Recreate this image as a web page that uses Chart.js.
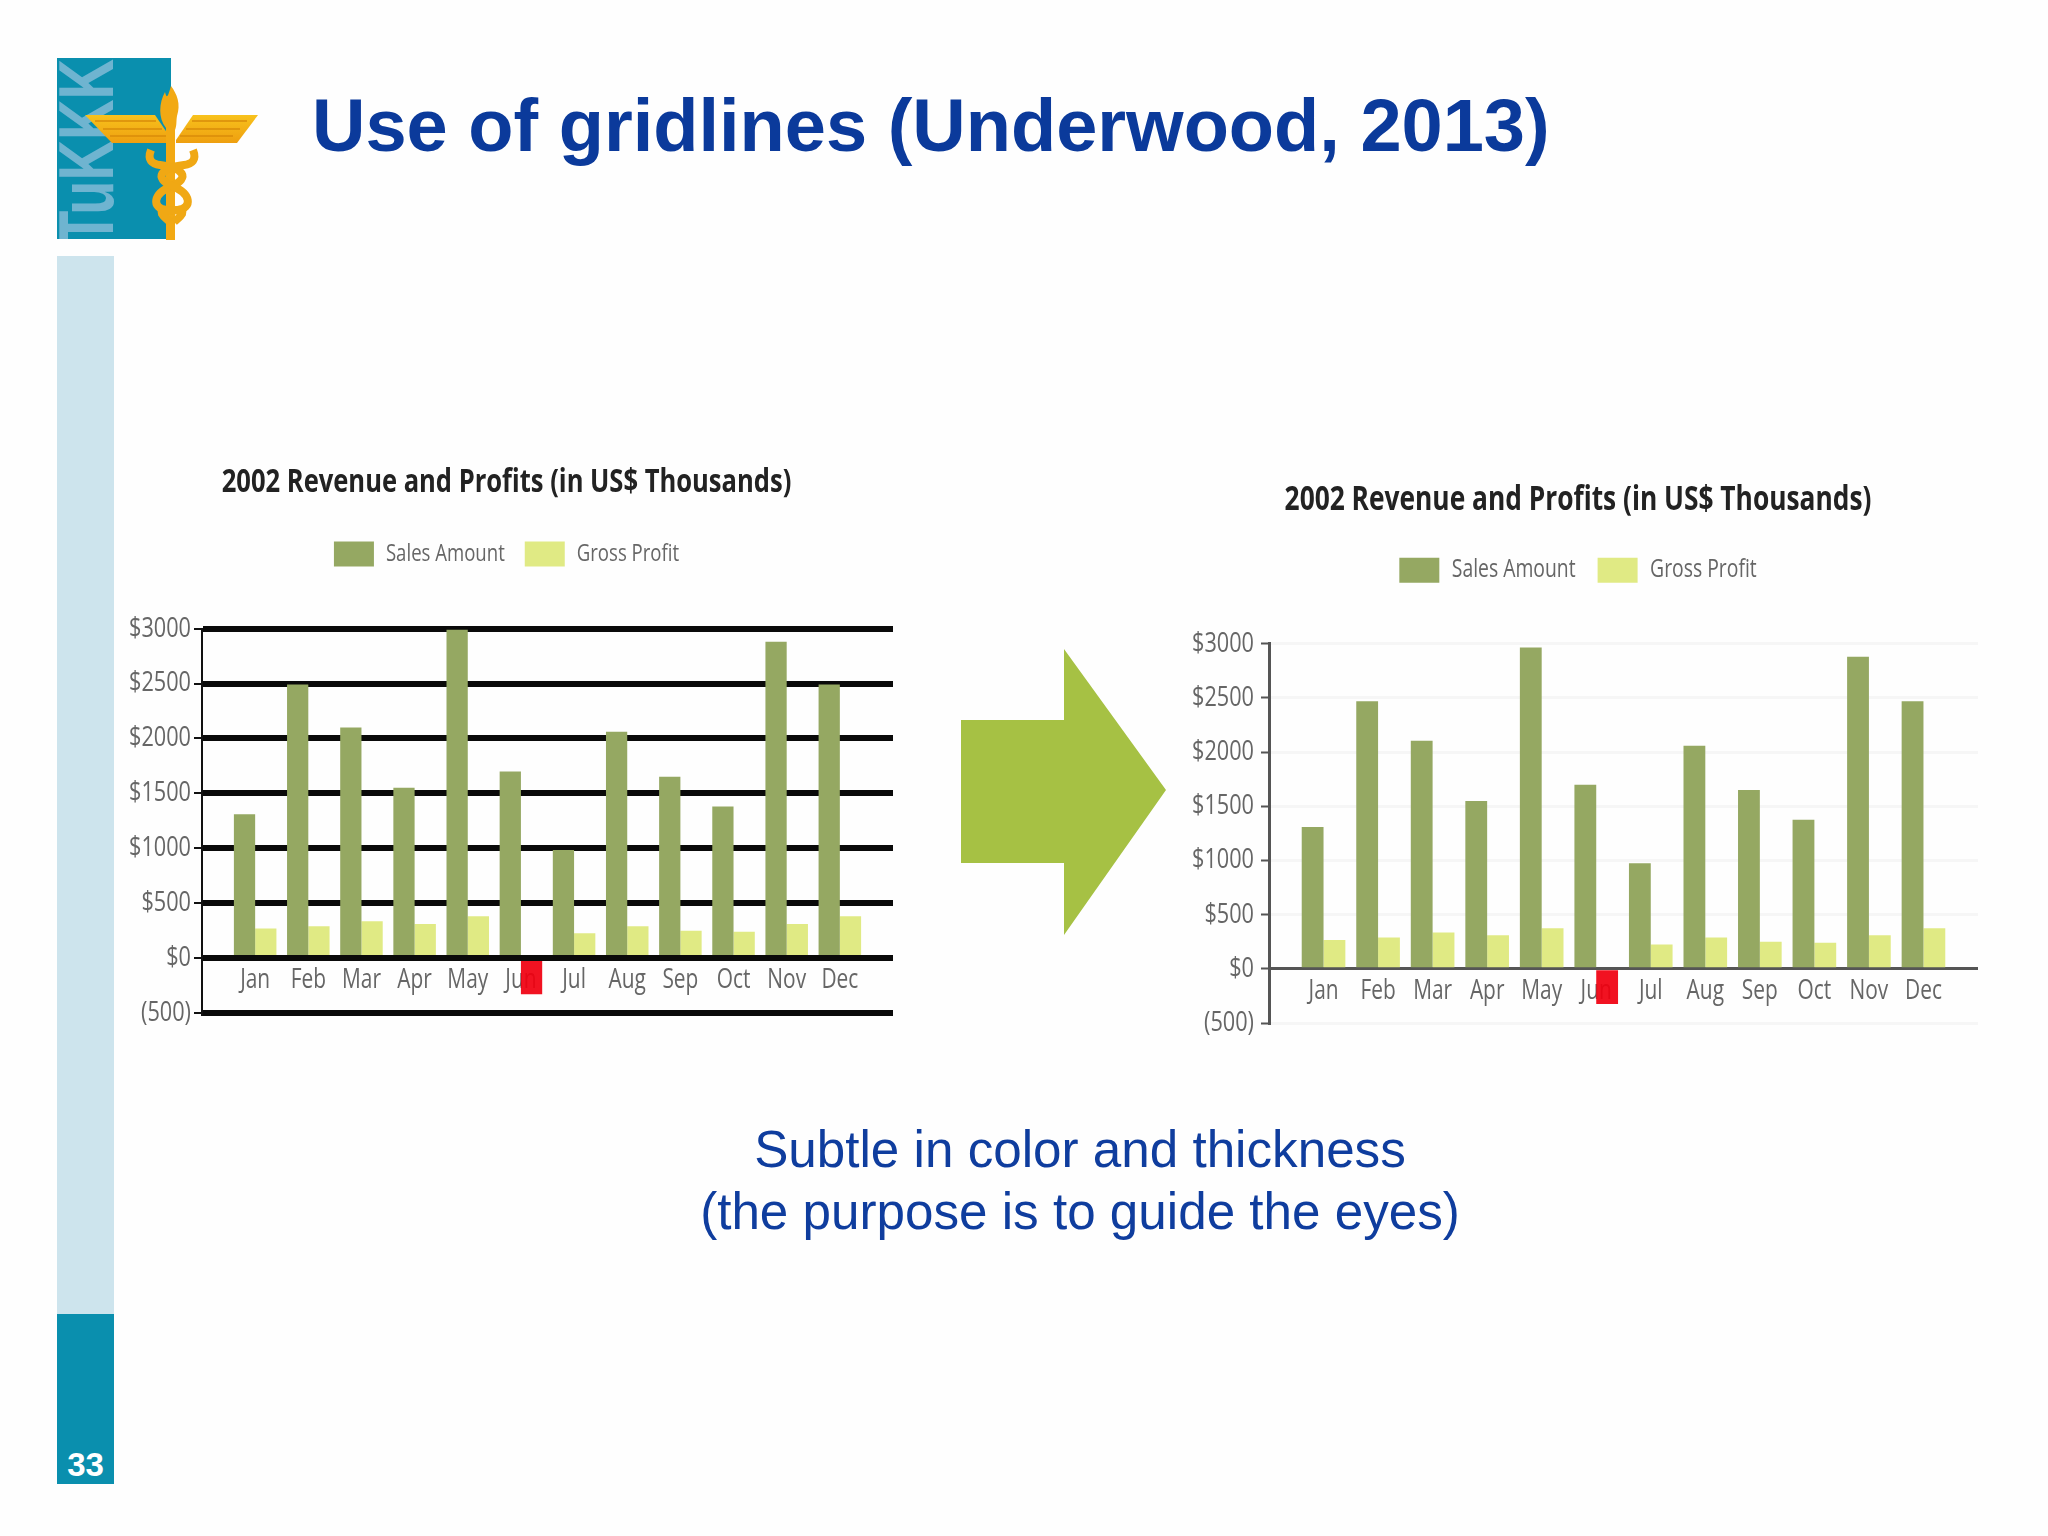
<!DOCTYPE html>
<html>
<head>
<meta charset="utf-8">
<title>Use of gridlines</title>
<script src="https://cdn.jsdelivr.net/npm/chart.js@4/dist/chart.umd.min.js"></script>
<style>
  html, body { margin: 0; padding: 0; background: #fefefe; }
  #slide { position: relative; width: 2048px; height: 1536px; overflow: hidden; background: #fefefe;
           font-family: "Liberation Sans", Arial, sans-serif; }
  #slide > * { position: absolute; }
  #logo { left: 40px; top: 40px; }
  #sideLight { left: 57px; top: 256px; width: 57px; height: 1058px; background: #cde4ed; }
  #sideDark { left: 57px; top: 1314px; width: 57px; height: 170px; background: #0a8fae; }
  #pageNo { left: 57px; top: 1446px; width: 57px; text-align: center; color: #fff; font-weight: bold; font-size: 33px; line-height: 38px; }
  #heading { left: 312px; top: 81px; margin: 0; font-size: 74px; line-height: 90px; font-weight: bold; color: #0b3a9b; white-space: nowrap; }
  #arrow { left: 961px; top: 649px; width: 205px; height: 286px; background: #a6c144;
           clip-path: polygon(0 71px, 103px 71px, 103px 0, 205px 141px, 103px 286px, 103px 214px, 0 214px); }
  #caption { left: 580px; top: 1119px; width: 1000px; text-align: center; font-size: 51.2px; line-height: 62px; color: #0f3d9e; }
  canvas { display: block; }
  #chartLeft { left: 120px; top: 463px; }
  #chartRight { left: 1178px; top: 480px; }
</style>
</head>
<body>
<div id="slide">
  <svg id="logo" width="240" height="210" viewBox="40 40 240 210">
    <defs>
      <clipPath id="blockClip"><rect x="57" y="58" width="114" height="181"/></clipPath>
      <linearGradient id="gold" x1="0" y1="0" x2="0" y2="1">
        <stop offset="0" stop-color="#f8c21c"/><stop offset="1" stop-color="#ee9f10"/>
      </linearGradient>
    </defs>
    <rect x="57" y="58" width="114" height="181" fill="#0a8fae"/>
    <g clip-path="url(#blockClip)">
      <text transform="translate(113 245) rotate(-90) scale(0.72 1)" font-family="Liberation Sans" font-weight="bold" font-size="78" fill="#6fb4d0">TuKKK</text>
    </g>
    <path d="M85 115 H155 L172 140 V143 H112 Z" fill="url(#gold)"/>
    <path d="M258 115 H193 L176 140 V143 H237 Z" fill="url(#gold)"/>
    <path d="M95 121 H156 M103 129 H162 M110 136 H168 M247 121 H192 M240 129 H186 M233 136 H180" stroke="#d98c0a" stroke-width="1.5"/>
    <path d="M166 240 V128 C158 118 159 103 165 92 C167 100 168 96 171 86 C177 94 181 104 177 116 C176 122 177 125 175 130 V240 Z" fill="#f2a913"/>
    <path d="M151 150 C147 160 152 164 160 165 C184 168 190 178 172 186 C152 194 152 208 166 210 C178 212 184 206 182 214 C180 218 176 220 174 222"
          fill="none" stroke="#f0a814" stroke-width="8"/>
    <path d="M193 150 C197 160 192 164 184 165 C160 168 154 178 172 186 C192 194 192 208 178 210 C166 212 160 206 162 214 C164 218 168 220 170 222"
          fill="none" stroke="#f0a814" stroke-width="8"/>
  </svg>
  <h1 id="heading">Use of gridlines (Underwood, 2013)</h1>
  <div id="sideLight"></div>
  <div id="sideDark"></div>
  <div id="pageNo">33</div>
  <canvas id="chartLeft" width="830" height="600"></canvas>
  <div id="arrow"></div>
  <canvas id="chartRight" width="840" height="590"></canvas>
  <div id="caption">Subtle in color and thickness<br>(the purpose is to guide the eyes)</div>
</div>

<script>
const titleText = '2002 Revenue and Profits (in US$ Thousands)';
const months = ['Jan', 'Feb', 'Mar', 'Apr', 'May', 'Jun', 'Jul', 'Aug', 'Sep', 'Oct', 'Nov', 'Dec'];
const yTickLabels = ['(500)', '$0', '$500', '$1000', '$1500', '$2000', '$2500', '$3000'];

const salesLeft = [1310, 2490, 2100, 1550, 2990, 1700, 985, 2060, 1650, 1380, 2880, 2490];
const profitLeft = [270, 290, 335, 310, 380, -330, 225, 290, 250, 240, 310, 380];
const salesRight = [1310, 2470, 2105, 1550, 2965, 1700, 975, 2060, 1650, 1375, 2880, 2470];
const profitRight = [265, 290, 335, 310, 375, -325, 225, 290, 250, 240, 310, 375];

const salesColor = '#95a862';
const profitColor = '#e0ea84';
const lossColor = 'rgba(240, 0, 16, 0.93)';
const labelFont = '"Open Sans", sans-serif';
const squeeze = 0.774;

// the reference leaves a full category of room at each end of the axis
function pad(list, blank) {
    return [blank, ...list, blank];
}

// the labels in the reference are squashed sideways and no narrow font is installed
function condense(ctx) {
    const fill = ctx.fillText.bind(ctx);
    const measure = ctx.measureText.bind(ctx);
    ctx.fillText = (text, x, y) => fill(text, x, y, measure(text).width * squeeze);
    ctx.measureText = text => ({ width: measure(text).width * squeeze });
}

// pushes the plot down from the legend
function legendGap(gap) {
    return {
        id: 'legendGap',
        beforeLayout(chart) {
            const legend = chart.legend;
            if (legend._gapped) return;
            legend._gapped = true;
            const fit = legend.fit;
            legend.fit = function () {
                fit.call(this);
                this.height += gap;
            };
        }
    };
}

function makeChart(id, sales, profit, look) {
    const canvas = document.getElementById(id);
    condense(canvas.getContext('2d'));
    new Chart(canvas, {
        type: 'bar',
        data: {
            labels: pad(months, ''),
            datasets: [
                { label: 'Sales Amount', data: pad(sales, null), backgroundColor: salesColor },
                {
                    label: 'Gross Profit',
                    data: pad(profit, null),
                    backgroundColor: ctx => (ctx.raw < 0 ? lossColor : profitColor)
                }
            ]
        },
        plugins: [legendGap(look.legendGap)],
        options: {
            responsive: false,
            animation: false,
            layout: { padding: { left: 0, right: look.paddingRight, top: 0, bottom: look.paddingBottom } },
            datasets: { bar: { categoryPercentage: 0.8, barPercentage: 1, borderWidth: 0 } },
            plugins: {
                tooltip: { enabled: false },
                title: {
                    display: true,
                    text: titleText,
                    color: '#222',
                    font: { family: labelFont, size: look.titleSize, weight: 'bold' },
                    padding: { top: 0, bottom: look.titleGap }
                },
                legend: {
                    labels: {
                        boxWidth: look.boxWidth,
                        boxHeight: 25,
                        padding: look.legendPadding,
                        color: '#666',
                        font: { family: labelFont, size: look.legendSize }
                    }
                }
            },
            scales: {
                x: {
                    position: { y: 0 },
                    offset: false,
                    grid: { display: false, offset: false },
                    border: { display: false },
                    ticks: {
                        autoSkip: false,
                        maxRotation: 0,
                        padding: -2,
                        color: '#666',
                        font: { family: labelFont, size: 27 }
                    }
                },
                y: {
                    min: -500,
                    max: 3000,
                    afterFit(scale) { scale.width = look.axisWidth; },
                    border: { color: look.axisColor, width: look.axisLine },
                    grid: {
                        color: ctx => (ctx.tick.value === 0 ? look.zeroColor : look.gridColor),
                        lineWidth: ctx => (ctx.tick.value === 0 ? look.zeroWidth : look.gridWidth),
                        tickColor: look.axisColor,
                        tickWidth: 2,
                        tickLength: 8
                    },
                    ticks: {
                        stepSize: 500,
                        padding: look.tickPadding,
                        color: '#666',
                        font: { family: labelFont, size: 28 },
                        callback: (value, index) => yTickLabels[index]
                    }
                }
            }
        }
    });
}

// Heavy gridlines
makeChart('chartLeft', salesLeft, profitLeft, {
    paddingRight: 57, paddingBottom: 50, titleSize: 33, titleGap: 19, legendGap: 52, boxWidth: 40,
    legendSize: 24, legendPadding: 20, tickPadding: 3,
    axisWidth: 82, axisColor: '#111', axisLine: 2,
    gridColor: '#0a0a0a', gridWidth: 6, zeroColor: '#0a0a0a', zeroWidth: 6
});

// Subtle gridlines
makeChart('chartRight', salesRight, profitRight, {
    paddingRight: 40, paddingBottom: 47, titleSize: 34, titleGap: 15, legendGap: 51, boxWidth: 40,
    legendSize: 25, legendPadding: 22, tickPadding: 7,
    axisWidth: 91, axisColor: '#555', axisLine: 3,
    gridColor: '#f6f6f6', gridWidth: 3, zeroColor: '#555', zeroWidth: 3
});
</script>
</body>
</html>
